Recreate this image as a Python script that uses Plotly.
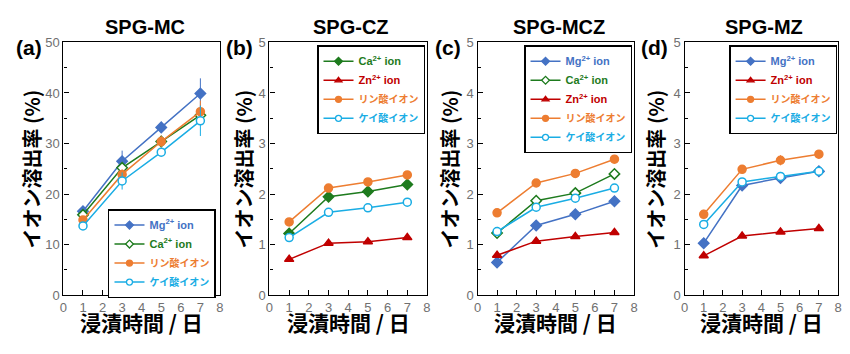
import plotly.graph_objects as go

days = [1, 3, 5, 7]

# SPG-MC
mc_mg = [16.6, 26.5, 33.2, 39.9]
mc_ca = [15.9, 25.2, 30.4, 35.6]
mc_p = [14.9, 23.9, 30.4, 36.3]
mc_si = [13.7, 22.6, 28.3, 34.5]
mc_mg_err = [0.6, 2.1, 0.6, 3.0]
mc_ca_err = [0.4, 0.8, 0.8, 1.5]
mc_p_err = [0.4, 1.0, 1.2, 2.2]
mc_si_err = [0.4, 1.7, 0.6, 3.0]

# SPG-CZ
cz_ca = [1.22, 1.95, 2.05, 2.19]
cz_zn = [0.71, 1.03, 1.06, 1.14]
cz_p = [1.45, 2.12, 2.24, 2.38]
cz_si = [1.14, 1.64, 1.73, 1.84]

# SPG-MCZ
mcz_mg = [0.65, 1.38, 1.60, 1.86]
mcz_ca = [1.23, 1.87, 2.02, 2.40]
mcz_zn = [0.79, 1.07, 1.16, 1.24]
mcz_p = [1.63, 2.22, 2.41, 2.69]
mcz_si = [1.26, 1.74, 1.92, 2.12]
mcz_mg_err = [0.03, 0.07, 0.05, 0.05]

# SPG-MZ
mz_mg = [1.03, 2.17, 2.32, 2.45]
mz_zn = [0.78, 1.17, 1.25, 1.32]
mz_p = [1.60, 2.49, 2.67, 2.79]
mz_si = [1.40, 2.24, 2.35, 2.45]
mz_p_err = [0.09, 0.04, 0.1, 0.04]

titles = ["SPG-MC", "SPG-CZ", "SPG-MCZ", "SPG-MZ"]
panel_labels = ["(a)", "(b)", "(c)", "(d)"]
x_title = "浸漬時間 / 日"
y_title = "イオン溶出率 (%)"

C_MG = "#4472C4"
C_CA = "#1E7B1E"
C_ZN = "#C00000"
C_P = "#ED7D31"
C_SI = "#1AADE4"

def lname(txt, color, size=11):
    return f'<span style="color:{color};font-size:{size}px"><b>{txt}</b></span>'

N_MG = lname("Mg<sup>2+</sup> ion", C_MG)
N_CA = lname("Ca<sup>2+</sup> ion", C_CA)
N_ZN = lname("Zn<sup>2+</sup> ion", C_ZN)
N_P = lname("リン酸イオン", C_P, 10)
N_SI = lname("ケイ酸イオン", C_SI, 10)

fig = go.Figure()

W, H = 850, 354
xdom = [(60, 218), (268, 427), (478, 636), (687, 842)]
ylab_x = [28, 242, 450, 658]
plab_x = [40, 253, 463, 672]
ytop, ybot = 37, 301
ydom = [1 - ybot / H, 1 - ytop / H]

def add(panel, y, name, color, symbol, err=None, legend="legend"):
    xa = "x" if panel == 1 else f"x{panel}"
    ya = "y" if panel == 1 else f"y{panel}"
    open_ = symbol.endswith("-o")
    sym = symbol.replace("-o", "")
    fill = "white" if open_ else color
    fig.add_trace(go.Scatter(
        x=days, y=y, name=name, mode="lines+markers", showlegend=False,
        xaxis=xa, yaxis=ya,
        line=dict(color=color, width=1.5),
        marker=dict(symbol=sym, size=8, color=fill,
                    line=dict(color=color, width=1.5)),
        error_y=dict(type="data", array=err, color=color, thickness=1, width=0,
                     visible=err is not None),
    ))
    # legend entry (smaller symbols, as in the reference legend)
    fig.add_trace(go.Scatter(
        x=[None], y=[None], name=name, mode="lines+markers", showlegend=True,
        xaxis=xa, yaxis=ya, legend=legend,
        line=dict(color=color, width=1.5),
        marker=dict(symbol=sym, size=6, color=fill,
                    line=dict(color=color, width=1.3)),
    ))

# panel a
add(1, mc_mg, N_MG, C_MG, "diamond", mc_mg_err, "legend")
add(1, mc_ca, N_CA, C_CA, "diamond-o", mc_ca_err, "legend")
add(1, mc_p, N_P, C_P, "circle", mc_p_err, "legend")
add(1, mc_si, N_SI, C_SI, "circle-o", mc_si_err, "legend")
# panel b
add(2, cz_ca, N_CA, C_CA, "diamond", None, "legend2")
add(2, cz_zn, N_ZN, C_ZN, "triangle-up", None, "legend2")
add(2, cz_p, N_P, C_P, "circle", None, "legend2")
add(2, cz_si, N_SI, C_SI, "circle-o", None, "legend2")
# panel c
add(3, mcz_mg, N_MG, C_MG, "diamond", mcz_mg_err, "legend3")
add(3, mcz_ca, N_CA, C_CA, "diamond-o", None, "legend3")
add(3, mcz_zn, N_ZN, C_ZN, "triangle-up", None, "legend3")
add(3, mcz_p, N_P, C_P, "circle", None, "legend3")
add(3, mcz_si, N_SI, C_SI, "circle-o", None, "legend3")
# panel d
add(4, mz_mg, N_MG, C_MG, "diamond", None, "legend4")
add(4, mz_zn, N_ZN, C_ZN, "triangle-up", None, "legend4")
add(4, mz_p, N_P, C_P, "circle", mz_p_err, "legend4")
add(4, mz_si, N_SI, C_SI, "circle-o", None, "legend4")

tickfont = dict(family="Liberation Sans, Arial", size=13, color="#707070")
layout = dict(
    width=W, height=H, margin=dict(l=0, r=0, t=0, b=0),
    paper_bgcolor="white", plot_bgcolor="white", showlegend=True,
)
annotations = []
for i in range(4):
    k = "" if i == 0 else str(i + 1)
    d0, d1 = xdom[i]
    layout[f"xaxis{k}"] = dict(
        domain=[d0 / W, d1 / W], range=[0, 8], dtick=1, tick0=0,
        showgrid=False, zeroline=False, showline=True, linecolor="black",
        linewidth=1.2, mirror=True, ticks="inside", ticklen=5, tickcolor="black",
        tickfont=tickfont, anchor="y" + k,
    )
    ymax = 50 if i == 0 else 5
    layout[f"yaxis{k}"] = dict(
        domain=ydom, range=[0, ymax], dtick=ymax / 5, tick0=0,
        showgrid=False, zeroline=False, showline=True, linecolor="black",
        linewidth=1.2, mirror=True, ticks="inside", ticklen=5, tickcolor="black",
        tickfont=tickfont, anchor="x" + k,
        minor=dict(dtick=ymax / 10, ticks="inside", ticklen=3, tickcolor="black"),
    )
    cx = (d0 + d1) / 2
    annotations.append(dict(
        text=f"<b>{titles[i]}</b>", x=(cx + 3) / W, y=1 - 21 / H, xref="paper", yref="paper",
        showarrow=False, font=dict(family="Liberation Sans, Arial", size=20, color="black"),
        xanchor="center", yanchor="middle"))
    annotations.append(dict(
        text=f"<b>{x_title}</b>", x=cx / W, y=1 - 329 / H, xref="paper", yref="paper",
        showarrow=False, font=dict(family="Noto Sans CJK JP", size=21, color="black"),
        xanchor="center", yanchor="middle"))
    annotations.append(dict(
        text=f"<b>{y_title}</b>", x=ylab_x[i] / W, y=(ydom[0] + ydom[1]) / 2,
        xref="paper", yref="paper", textangle=-90,
        showarrow=False, font=dict(family="Noto Sans CJK JP", size=20, color="black"),
        xanchor="center", yanchor="middle"))
    annotations.append(dict(
        text=f"<b>{panel_labels[i]}</b>", x=plab_x[i] / W, y=1 - 42 / H,
        xref="paper", yref="paper",
        showarrow=False, font=dict(family="Liberation Sans, Arial", size=21, color="black"),
        xanchor="right", yanchor="middle"))

legfont = dict(family="Liberation Sans, Noto Sans CJK JP", size=10)
def leg(xr, ytop_px, yanchor="top"):
    return dict(x=xr / W, y=1 - ytop_px / H, xanchor="right", yanchor=yanchor,
                xref="paper", yref="paper", bgcolor="white", bordercolor="black",
                borderwidth=1.5, font=legfont, tracegroupgap=0, itemwidth=30,
                traceorder="normal")

layout["legend"] = leg(214, 211)
layout["legend2"] = leg(425, 40)
layout["legend3"] = leg(634, 40)
layout["legend4"] = leg(841, 40)
layout["annotations"] = annotations

fig.update_layout(**layout)
fig.write_html("out.html")
